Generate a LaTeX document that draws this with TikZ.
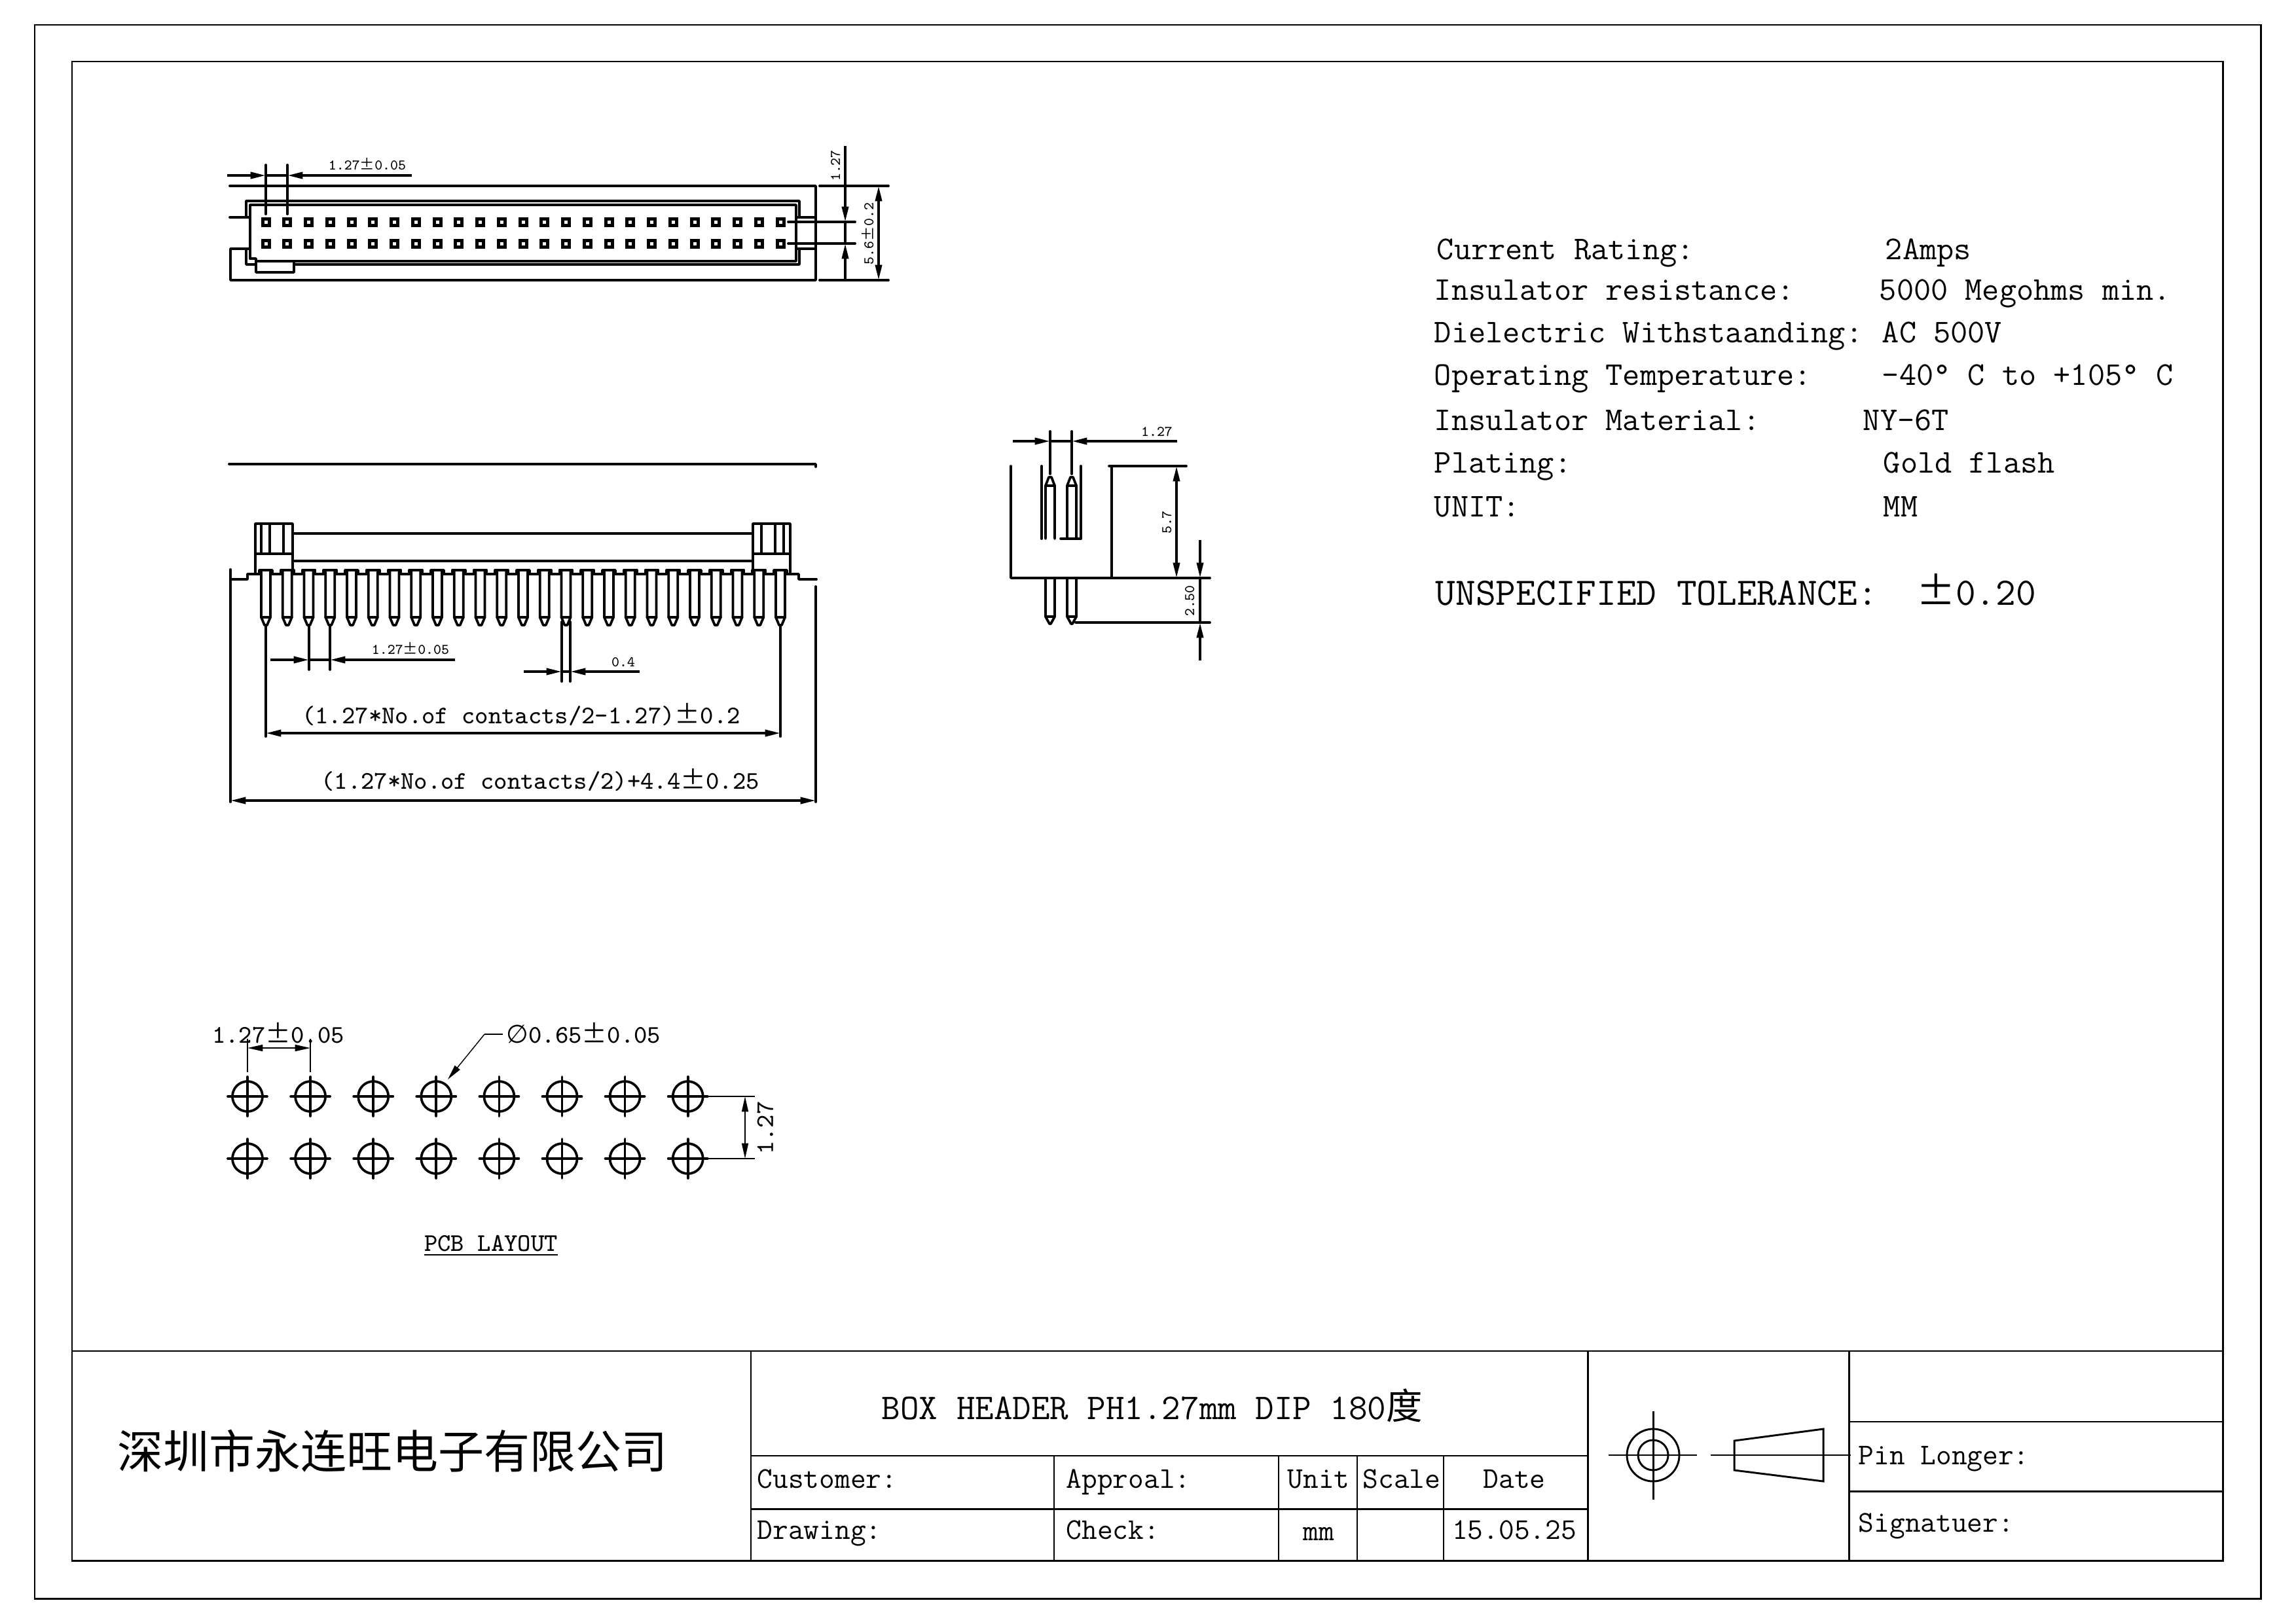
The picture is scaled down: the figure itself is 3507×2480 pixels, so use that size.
\documentclass[tikz,border=0pt]{standalone}
\usepackage{fontspec}
\usetikzlibrary{arrows.meta}
\newfontfamily\cjk{Noto Sans CJK SC}
\newfontfamily\symfont{DejaVu Sans}
\newcommand{\plmn}{{\cjk ±}}
\tikzstyle{txt} = [inner sep=0pt, text height=7.5pt, text depth=0pt, font=\ttfamily\fontsize{12.2}{14}\selectfont, anchor=west]
\tikzstyle{small} = [inner sep=0pt, text height=3.4pt, text depth=0pt, font=\ttfamily\fontsize{5.4}{6}\selectfont]
\tikzstyle{mid} = [inner sep=0pt, text height=5.7pt, text depth=0pt, font=\ttfamily\fontsize{9.3}{11}\selectfont]
\tikzstyle{cell} = [inner sep=0pt, text height=6.8pt, text depth=0pt, font=\ttfamily\fontsize{11.05}{13}\selectfont]
\tikzstyle{part} = [draw, line width=0.9pt, line cap=round, line join=round]
\tikzstyle{frame} = [draw, line width=0.7pt]
\tikzstyle{thin} = [draw, line width=0.35pt]
\tikzstyle{dim} = [draw, line width=0.9pt, -{Triangle[length=5.6pt,width=2.4pt]}]
\tikzstyle{thindim} = [draw, line width=0.35pt, -{Triangle[length=5.6pt,width=2.4pt]}]

\begin{document}
\begin{tikzpicture}[x=0.24pt, y=-0.24pt]
    \useasboundingbox (0,0) rectangle (3507,2480);

    % sheet frames
    \path[frame] (53,38) rectangle (3453,2442);
    \path[frame] (110,94) rectangle (3395,2384);

    % title block
    \path[frame] (110,2064) -- (3395,2064);
    \path[frame] (1147,2064) -- (1147,2384);
    \path[frame] (2425,2064) -- (2425,2384);
    \path[frame] (2824,2064) -- (2824,2384);
    \path[frame] (1147,2224) -- (2425,2224);
    \path[frame] (1147,2305) -- (2425,2305);
    \path[frame] (2824,2172) -- (3395,2172);
    \path[frame] (2824,2278) -- (3395,2278);
    \foreach \x in {1610,1953,2073,2205} {
        \path[frame] (\x,2224) -- (\x,2384);
    }
    \node[inner sep=0pt, font=\cjk\fontsize{16.8}{18}\selectfont, anchor=west] (company) at (179,2217) {深圳市永连旺电子有限公司};
    \node[inner sep=0pt, text height=8pt, text depth=0pt, font=\ttfamily\fontsize{13.3}{15}\selectfont, anchor=west] (title) at (1346,2152) {BOX HEADER PH1.27mm DIP 180{\cjk 度}};
    \node[cell, anchor=west] (customer) at (1156,2259) {Customer:};
    \node[cell, anchor=west] (approval) at (1628,2259) {Approal:};
    \node[cell] (unit) at (2014,2259) {Unit};
    \node[cell] (scale) at (2141,2259) {Scale};
    \node[cell] (date) at (2313,2259) {Date};
    \node[cell, anchor=west] (drawing) at (1156,2337) {Drawing:};
    \node[cell, anchor=west] (check) at (1628,2337) {Check:};
    \node[cell] (mm) at (2014,2339) {mm};
    \node[cell] (dateval) at (2313,2337) {15.05.25};
    \node[cell, anchor=west] (pinlonger) at (2838,2223) {Pin Longer:};
    \node[cell, anchor=west] (signature) at (2838,2326) {Signatuer:};

    % projection symbol
    \path[frame] (2525,2223) circle (40);
    \path[frame] (2525,2223) circle (23);
    \path[frame] (2457,2223) -- (2592,2223);
    \path[frame] (2525,2156) -- (2525,2291);
    \path[frame] (2613,2223) -- (2827,2223);
    \path[frame] (2649,2201) -- (2785,2183) -- (2785,2263) -- (2649,2246) -- cycle;

    % specification text
    \node[txt] (rating) at (2194,381) {Current Rating:};
    \node[txt] (ratingval) at (2879,381) {2Amps};
    \node[txt] (insres) at (2190,443) {Insulator resistance:};
    \node[txt] (insresval) at (2870,443) {5000 Megohms min.};
    \node[txt] (dielec) at (2190,508) {Dielectric Withstaanding:};
    \node[txt] (dielecval) at (2874,508) {AC 500V};
    \node[txt] (optemp) at (2190,573) {Operating Temperature:};
    \node[txt] (optempval) at (2874,573) {-40° C to +105° C};
    \node[txt] (insmat) at (2190,642) {Insulator Material:};
    \node[txt] (insmatval) at (2845,642) {NY-6T};
    \node[txt] (plating) at (2190,707) {Plating:};
    \node[txt] (platingval) at (2876,707) {Gold flash};
    \node[txt] (unitlbl) at (2190,774) {UNIT:};
    \node[txt] (unitval) at (2876,774) {MM};
    \node[txt, text height=8.8pt, font=\ttfamily\fontsize{14.3}{16}\selectfont] (tolerance) at (2192,906) {UNSPECIFIED TOLERANCE:\hspace{1em}\plmn0.20};

    % top view
    \path[part] (351,284) -- (1246,284) -- (1246,428) -- (352,428) -- (352,380) -- (382,380);
    \path[part] (351,332) -- (382,332);
    \path[part] (376,332) -- (376,307) -- (1221,307) -- (1221,332);
    \path[part] (376,380) -- (376,404) -- (391,404);
    \path[part] (449,404) -- (1221,404) -- (1221,380);
    \path[part] (382,395) -- (382,313) -- (1216,313) -- (1216,399) -- (391,399);
    \path[part] (382,395) -- (391,395) -- (391,416) -- (449,416) -- (449,399);
    \path[part] (1216,332) -- (1246,332);
    \path[part] (1216,380) -- (1246,380);
    \foreach \i in {0,...,24} {
        \pgfmathsetmacro{\px}{406+32.75*\i}
        \foreach \y in {339,372} {
            \fill (\px-7.5,\y-7.5) rectangle (\px+7.5,\y+7.5);
            \fill[white] (\px-2.5,\y-2.5) rectangle (\px+2.5,\y+2.5);
        }
    }
    \path[part] (406,252) -- (406,327);
    \path[part] (439,252) -- (439,327);
    \path[dim] (347,268) -- (406,268);
    \path[dim] (629,268) -- (439,268);
    \path[part] (406,268) -- (439,268);
    \node[small] (toppitch) at (561,252) {1.27\plmn0.05};
    \path[part] (1204,339) -- (1306,339);
    \path[part] (1204,372) -- (1306,372);
    \path[part] (1252,284) -- (1357,284);
    \path[part] (1252,428) -- (1357,428);
    \path[dim] (1291,223) -- (1291,339);
    \path[dim] (1291,430) -- (1291,372);
    \path[part] (1291,339) -- (1291,372);
    \path[dim] (1342,350) -- (1342,284);
    \path[dim] (1342,350) -- (1342,428);
    \node[small, rotate=90] (toprow) at (1276,253) {1.27};
    \node[small, rotate=90] (topwidth) at (1327,357) {5.6\plmn0.2};

    % front view
    \path[part] (350,709) -- (1246,709) -- (1246,713);
    \path[part] (390,877) -- (390,800) -- (447,800) -- (447,877);
    \path[part] (390,846) -- (447,846);
    \foreach \x in {399,412,433} {
        \path[part] (\x,800) -- (\x,846);
    }
    \path[part] (1207,877) -- (1207,800) -- (1150,800) -- (1150,877);
    \path[part] (1150,846) -- (1207,846);
    \foreach \x in {1163,1184,1197} {
        \path[part] (\x,800) -- (\x,846);
    }
    \path[part] (447,815) -- (1150,815);
    \path[part] (447,857) -- (1150,857);
    \path[part] (352,870) -- (352,1225);
    \path[part] (1246,896) -- (1246,1225);
    \path[part] (352,885) -- (378,885) -- (378,877) -- (396,877);
    \path[part] (1202,877) -- (1220,877) -- (1220,885) -- (1247,885);
    \foreach \i in {0,...,24} {
        \pgfmathsetmacro{\px}{406+32.75*\i}
        \path[part] (\px-10,877) -- (\px-10,871) -- (\px+10,871) -- (\px+10,877);
        \path[part] (\px-7,871) -- (\px-7,943) -- (\px-2,955) -- (\px+2,955) -- (\px+7,943) -- (\px+7,871);
        \path[part] (\px-7,943) -- (\px+7,943);
    }
    \foreach \i in {0,...,23} {
        \pgfmathsetmacro{\px}{406+32.75*\i}
        \path[part] (\px+10,877) -- (\px+22.75,877);
    }
    % front view dimensions
    \path[part] (472,955) -- (472,1023);
    \path[part] (504,955) -- (504,1023);
    \path[dim] (413,1008) -- (472,1008);
    \path[dim] (695,1008) -- (504,1008);
    \path[part] (472,1008) -- (504,1008);
    \node[small] (frontpitch) at (627,992) {1.27\plmn0.05};
    \path[part] (858,950) -- (858,1041);
    \path[part] (871,950) -- (871,1041);
    \path[dim] (800,1026) -- (858,1026);
    \path[dim] (977,1026) -- (871,1026);
    \path[part] (858,1026) -- (871,1026);
    \node[small] (pinwidth) at (952,1011) {0.4};
    \path[part] (406,955) -- (406,1125);
    \path[part] (1192,955) -- (1192,1125);
    \path[dim] (800,1120) -- (406,1120);
    \path[dim] (800,1120) -- (1192,1120);
    \node[mid] (pinspan) at (796,1094) {(1.27*No.of contacts/2-1.27)\plmn0.2};
    \path[dim] (800,1223) -- (352,1223);
    \path[dim] (800,1223) -- (1246,1223);
    \node[mid] (bodyspan) at (825,1194) {(1.27*No.of contacts/2)+4.4\plmn0.25};

    % side view
    \path[part] (1544,712) -- (1544,883) -- (1848,883);
    \path[part] (1591,712) -- (1591,823);
    \path[part] (1651,712) -- (1651,823) -- (1620,823);
    \foreach \x in {1604,1637} {
        \path[part] (\x-7,823) -- (\x-7,742) -- (\x-2,729) -- (\x+2,729) -- (\x+7,742) -- (\x+7,823);
        \path[part] (\x-7,742) -- (\x+7,742);
        \path[part] (\x-7,883) -- (\x-7,942) -- (\x-1,953) -- (\x+1,953) -- (\x+7,942) -- (\x+7,883);
        \path[part] (\x-7,942) -- (\x+7,942);
        \path[part] (\x,659) -- (\x,724);
    }
    \path[part] (1694,712) -- (1812,712);
    \path[part] (1698,712) -- (1698,883);
    \path[part] (1643,951) -- (1848,951);
    \path[dim] (1547,674) -- (1604,674);
    \path[dim] (1798,674) -- (1637,674);
    \path[part] (1604,674) -- (1637,674);
    \node[small] (sidepitch) at (1767,659) {1.27};
    \path[dim] (1797,798) -- (1797,712);
    \path[dim] (1797,798) -- (1797,883);
    \node[small, rotate=90] (sideheight) at (1782,798) {5.7};
    \path[dim] (1833,825) -- (1833,883);
    \path[dim] (1833,1009) -- (1833,951);
    \path[part] (1833,883) -- (1833,951);
    \node[small, rotate=90] (sidetail) at (1817,918) {2.50};

    % pcb layout
    \foreach \i in {0,...,7} {
        \pgfmathsetmacro{\hx}{378+96.1*\i}
        \foreach \y in {1675,1770} {
            \path[part] (\hx,\y) circle (23);
            \path[part] (\hx-30,\y) -- (\hx+30,\y);
            \path[part] (\hx,\y-30) -- (\hx,\y+30);
        }
    }
    \path[thin] (378,1587) -- (378,1638);
    \path[thin] (474,1587) -- (474,1638);
    \path[thindim] (426,1601) -- (378,1601);
    \path[thindim] (426,1601) -- (474,1601);
    \node[mid] (pcbpitch) at (425,1582) {1.27\plmn0.05};
    \path[thin] (768,1580) -- (740,1580);
    \path[thindim] (740,1580) -- (684,1649);
    \node[mid, anchor=west] (pcbhole) at (773,1582) {{\symfont ∅}0.65\plmn0.05};
    \path[thin] (1080,1675) -- (1153,1675);
    \path[thin] (1080,1770) -- (1153,1770);
    \path[thindim] (1138,1722) -- (1138,1675);
    \path[thindim] (1138,1722) -- (1138,1770);
    \node[mid, rotate=90] (pcbrow) at (1169,1723) {1.27};
    \node[mid] (pcblabel) at (750,1900) {PCB LAYOUT};
    \path[thin] (648,1917) -- (852,1917);
\end{tikzpicture}
\end{document}
